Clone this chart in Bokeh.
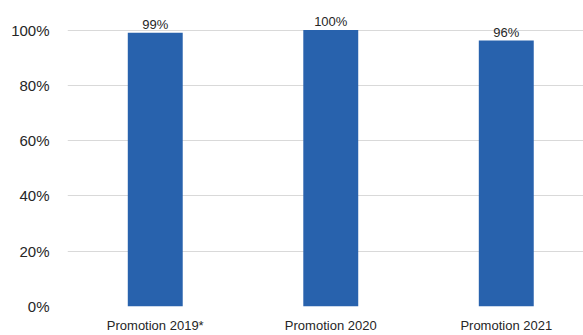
from bokeh.plotting import figure
from bokeh.models import ColumnDataSource, FixedTicker, NumeralTickFormatter, Range1d
from bokeh.core.properties import value
from bokeh.embed import file_html
from bokeh.resources import INLINE

categories = ["Promotion 2019*", "Promotion 2020", "Promotion 2021"]
values = [0.99, 1.00, 0.962]
labels = ["99%", "100%", "96%"]
y_ticks = [0, 0.2, 0.4, 0.6, 0.8, 1.0]

FONT = "Liberation Sans"

xpos = [i + 0.5 for i in range(len(categories))]
src = ColumnDataSource(dict(x=xpos, cat=categories, val=values, lab=labels))

p = figure(width=583, height=335, output_backend="svg",
           toolbar_location=None, min_border_left=67, min_border_right=0,
           min_border_top=13, min_border_bottom=28)
p.x_range = Range1d(0, 2.94)
p.y_range = Range1d(0, 1.06)

p.vbar(x="x", top="val", width=0.313, source=src, color="#2862ad", line_color=None)
p.text(x="x", y="val", text="lab", source=src, text_align="center",
       text_baseline="bottom", y_offset=-1, text_font=value(FONT),
       text_font_size="13px", text_color="#262626")

p.outline_line_color = None
p.xgrid.grid_line_color = None
p.ygrid.grid_line_color = "#d9d9d9"
p.ygrid.grid_line_width = 1

p.xaxis.ticker = FixedTicker(ticks=xpos)
p.xaxis.major_label_overrides = {x: c for x, c in zip(xpos, categories)}
p.yaxis.ticker = FixedTicker(ticks=y_ticks)
p.yaxis.formatter = NumeralTickFormatter(format="0%")
for ax in (p.xaxis[0], p.yaxis[0]):
    ax.axis_line_color = None
    ax.major_tick_line_color = None
    ax.minor_tick_line_color = None
    ax.major_tick_out = 0
    ax.major_tick_in = 0
    ax.minor_tick_out = 0
    ax.minor_tick_in = 0
    ax.major_label_text_font = FONT
    ax.major_label_text_color = "#262626"
p.yaxis.major_label_text_font_size = "15px"
p.yaxis.major_label_standoff = 18
p.xaxis.major_label_text_font_size = "13px"
p.xaxis.major_label_standoff = 11

open("out.html", "w").write(file_html(p, INLINE))
